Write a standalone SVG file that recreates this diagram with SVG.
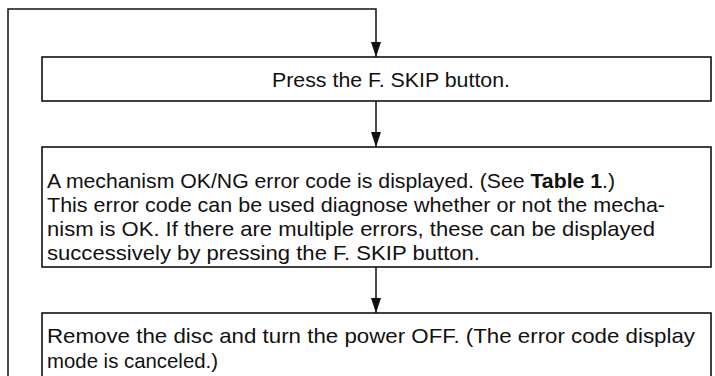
<svg xmlns="http://www.w3.org/2000/svg" width="715" height="376" viewBox="0 0 715 376">
<defs>
<style>
.box{fill:#fff;stroke:#111;stroke-width:1.6}
.ln{fill:none;stroke:#111;stroke-width:1.5}
.t{font-family:"Liberation Sans",Arial,sans-serif;font-size:21px;fill:#111}
</style>
<marker id="a" markerUnits="userSpaceOnUse" markerWidth="16" markerHeight="10" refX="15" refY="5" orient="auto" viewBox="0 0 16 10">
<path d="M0,0 L15,5 L0,10 Z" fill="#111"/>
</marker>
</defs>
<rect width="715" height="376" fill="#fff"/>
<g id="connectors">
<path class="ln" d="M8,376 V9 H376 V57" marker-end="url(#a)"/>
<path class="ln" d="M376,101 V147" marker-end="url(#a)"/>
<path class="ln" d="M376,267 V313" marker-end="url(#a)"/>
</g>
<g id="n1">
<rect class="box" x="42" y="57" width="669" height="44"/>
<text class="t" x="272" y="87" textLength="238" lengthAdjust="spacingAndGlyphs">Press the F. SKIP button.</text>
</g>
<g id="n2">
<rect class="box" x="42" y="147" width="669" height="120"/>
<text class="t" x="47" y="188" textLength="568" lengthAdjust="spacingAndGlyphs">A mechanism OK/NG error code is displayed. (See <tspan font-weight="bold">Table 1</tspan>.)</text>
<text class="t" x="47" y="212" textLength="618" lengthAdjust="spacingAndGlyphs">This error code can be used diagnose whether or not the mecha-</text>
<text class="t" x="47" y="236" textLength="608" lengthAdjust="spacingAndGlyphs">nism is OK. If there are multiple errors, these can be displayed</text>
<text class="t" x="47" y="260" textLength="433" lengthAdjust="spacingAndGlyphs">successively by pressing the F. SKIP button.</text>
</g>
<g id="n3">
<rect class="box" x="42" y="313" width="669" height="80"/>
<text class="t" x="47" y="343" textLength="648" lengthAdjust="spacingAndGlyphs">Remove the disc and turn the power OFF. (The error code display</text>
<text class="t" x="47" y="368" textLength="171" lengthAdjust="spacingAndGlyphs">mode is canceled.)</text>
</g>
</svg>
